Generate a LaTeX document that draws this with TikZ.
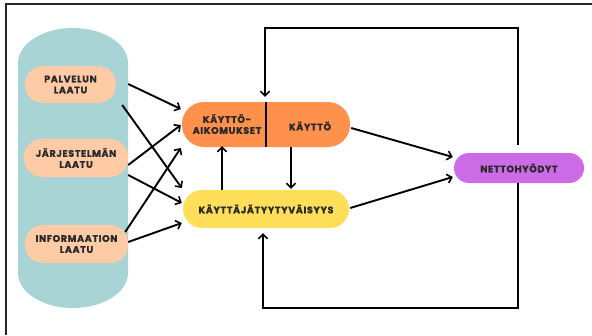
\documentclass[tikz,border=0pt]{standalone}
\usepackage{fontspec}
\setmainfont{Poppins}
\newfontfamily\lblfont{Poppins}[LetterSpace=7, FakeBold=1.3]
\usetikzlibrary{arrows.meta,calc}
\definecolor{tealbg}{HTML}{A9D4D6}
\definecolor{peach}{HTML}{FFCBA6}
\definecolor{orangebox}{HTML}{FF914D}
\definecolor{yellowbox}{HTML}{FFDE59}
\definecolor{purplebox}{HTML}{CB6CE6}
\definecolor{inkgray}{HTML}{2A2A2A}
\tikzset{
  lbl/.style={font=\lblfont\bfseries\fontsize{9.5}{11}\selectfont, text=inkgray},
  pill/.style={rounded corners=#1, inner sep=0pt, align=center, lbl},
  peachbox/.style={pill=18pt, fill=peach},
  link/.style={line width=1.9pt, draw=black, -{Straight Barb[length=4.5pt,width=9pt,line width=1.6pt]}},
  frame/.style={line width=1.8pt, draw=black!85}
}
\begin{document}
\begin{tikzpicture}[x=1pt,y=-1pt]
\useasboundingbox (0,0) rectangle (592,335);
% outer frame (top and left edges)
\draw[frame] (6,335) -- (6,4) -- (592,4);
% quality-factor background column
\fill[tealbg] (18,63) arc[start angle=180, end angle=360, x radius=55, y radius=35]
  -- (128,273) arc[start angle=0, end angle=180, x radius=55, y radius=35] -- cycle;
% quality factors
\node[peachbox, minimum width=91pt, minimum height=37pt] (pal) at (70.5,84.5) {PALVELUN\\LAATU};
\node[peachbox, minimum width=104pt, minimum height=38pt] (jar) at (76,158) {JÄRJESTELMÄN\\LAATU};
\node[peachbox, minimum width=103pt, minimum height=38pt] (inf) at (76.5,244) {INFORMAATION\\LAATU};
% use / intention box
\node[pill=22pt, fill=orangebox, minimum width=168pt, minimum height=45pt] (use) at (266,124.5) {};
\node[pill=0pt] (intent) at (227,124) {KÄYTTÖ-\\AIKOMUKSET};
\node[pill=0pt] (usage) at (310,126) {KÄYTTÖ};
\draw[line width=1.6pt] (use.north) -- (use.south);
% satisfaction
\node[pill=19pt, fill=yellowbox, minimum width=166pt, minimum height=38pt] (sat) at (266,209) {KÄYTTÄJÄTYYTYVÄISYYS};
% net benefits
\node[pill=15pt, fill=purplebox, minimum width=130pt, minimum height=30pt] (net) at (519,168) {NETTOHYÖDYT};
% factors to use and satisfaction
\draw[link] ($(pal.east)+(12,-0.5)$) -- ($(use.west)+(-1,-15.5)$);
\draw[link] ($(pal.east)+(6,20.5)$) -- ($(sat.west)+(-1,-21)$);
\draw[link] ($(jar.east)+(0,7)$) -- ($(use.west)+(-1,0.5)$);
\draw[link] ($(jar.east)+(0,17)$) -- ($(sat.west)+(-1,-6)$);
\draw[link] ($(inf.east)+(-3,-12)$) -- ($(use.west)+(-1,23.5)$);
\draw[link] ($(inf.east)+(0,-2)$) -- ($(sat.west)+(-1,14)$);
% between use and satisfaction
\draw[link] (sat.north -| 222,0) -- ($(use.south -| 222,0)+(0,-1)$);
\draw[link] (use.south -| 291,0) -- ($(sat.north -| 291,0)+(0,-1)$);
% towards net benefits
\draw[link] ($(use.east)+(1,3.5)$) -- ($(net.west)+(-1,-11)$);
\draw[link] ($(sat.east)+(1,-1)$) -- ($(net.west)+(-1,9)$);
% feedback loops
\coordinate (topgap) at ($(net.north)+(-1,-8)$);
\draw[link] (topgap) |- (265,28) -- ($(use.north -| 265,0)+(0,-5)$);
\draw[link] ($(net.south)+(-1,0)$) |- (263,308) -- ($(sat.south -| 263,0)+(0,5)$);
\end{tikzpicture}
\end{document}
